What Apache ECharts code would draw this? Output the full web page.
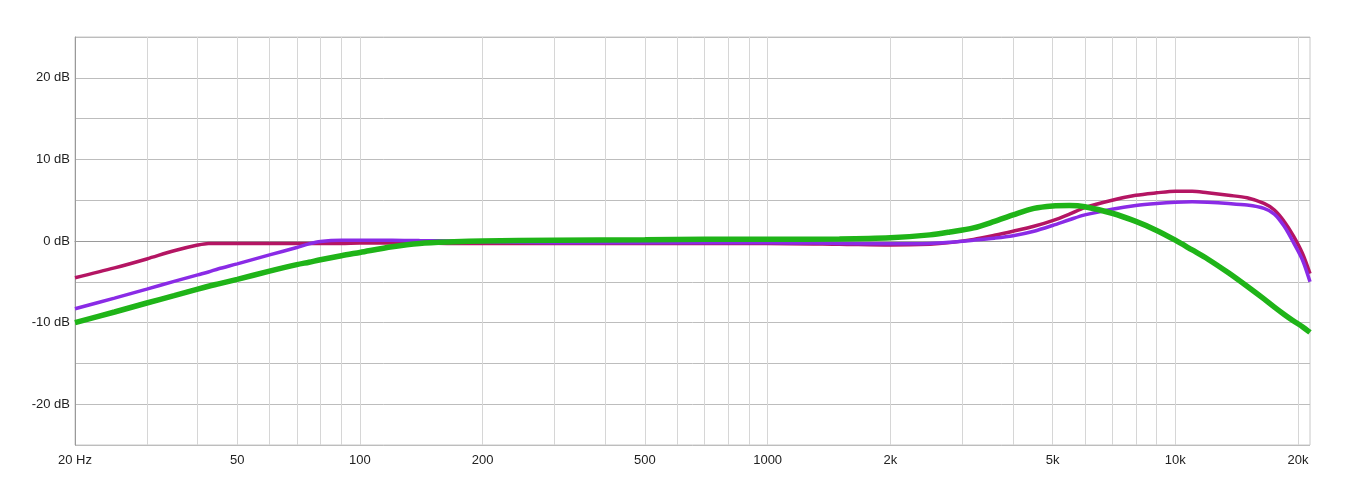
<!DOCTYPE html>
<html><head><meta charset="utf-8">
<script src="https://cdn.jsdelivr.net/npm/echarts@6/dist/echarts.min.js"></script>
<style>html,body{margin:0;padding:0;background:#fff}#c{width:1350px;height:500px}</style>
</head><body><div id="c"></div>
<script>
const freqs = [20, 25, 30, 35, 40, 42.5, 45, 50, 60, 70, 75, 80, 90, 100, 120, 140, 170, 200, 300, 500, 700, 1000, 1500, 2000, 2500, 2800, 3200, 3600, 4000, 4500, 5000, 5500, 6000, 7000, 8000, 9000, 10000, 11000, 12000, 13500, 15000, 16500, 17500, 18500, 19500, 20500, 21400];
const crimsonDb = [-4.5, -3.3, -2.2, -1.2, -0.5, -0.3, -0.3, -0.3, -0.3, -0.3, -0.3, -0.3, -0.3, -0.25, -0.25, -0.25, -0.3, -0.3, -0.3, -0.3, -0.3, -0.3, -0.4, -0.5, -0.4, -0.2, 0.2, 0.7, 1.2, 1.8, 2.5, 3.3, 4.1, 5.0, 5.6, 5.9, 6.1, 6.1, 5.9, 5.6, 5.3, 4.6, 3.8, 2.4, 0.6, -1.5, -4.0];
const purpleDb = [-8.3, -7.0, -5.9, -4.95, -4.15, -3.8, -3.4, -2.8, -1.7, -0.8, -0.35, -0.05, 0.1, 0.1, 0.1, 0.05, 0.0, -0.1, -0.2, -0.2, -0.2, -0.2, -0.3, -0.35, -0.3, -0.15, 0.1, 0.35, 0.65, 1.2, 1.9, 2.6, 3.2, 3.9, 4.35, 4.6, 4.75, 4.8, 4.75, 4.6, 4.4, 4.0, 3.3, 1.8, -0.2, -2.3, -5.0];
const greenDb = [-10.0, -8.7, -7.6, -6.7, -5.9, -5.55, -5.25, -4.7, -3.7, -2.9, -2.6, -2.3, -1.8, -1.4, -0.7, -0.3, -0.1, 0.0, 0.1, 0.15, 0.2, 0.2, 0.25, 0.4, 0.75, 1.1, 1.6, 2.4, 3.2, 4.0, 4.3, 4.35, 4.2, 3.4, 2.4, 1.3, 0.1, -1.1, -2.2, -3.9, -5.55, -7.1, -8.1, -9.0, -9.8, -10.5, -11.2];
const gridFreqs = [20, 30, 40, 50, 60, 70, 80, 90, 100, 200, 300, 400, 500, 600, 700, 800, 900, 1000, 2000, 3000, 4000, 5000, 6000, 7000, 8000, 9000, 10000, 20000];
const labelFreqs = [20, 50, 100, 200, 500, 1000, 2000, 5000, 10000, 20000];
const freqMin = 20, freqMax = 21400;

function pairs(vals){ return freqs.map((f,i)=>[f, vals[i]]); }
function fmtFreq(v){
  if (Math.abs(v-20) < 0.01) return '20 Hz';
  if (v >= 2000) return Math.round(v/1000) + 'k';
  return String(Math.round(v));
}
const chart = echarts.init(document.getElementById('c'), null, {renderer:'canvas'});
const font = 'Liberation Sans, Arial, sans-serif';
chart.setOption({
  animation: false,
  backgroundColor: '#fff',
  grid: {left: 75, right: 40, top: 37, bottom: 55, show: true, borderColor: '#c8c8c8', borderWidth: 1, containLabel: false},
  xAxis: {
    type: 'log', logBase: 10, min: freqMin, max: freqMax,
    axisLine: {show: true, lineStyle: {color: '#9a9a9a', width: 1}},
    axisTick: {show: false, customValues: gridFreqs},
    axisLabel: {customValues: labelFreqs, formatter: fmtFreq, color: '#222', fontSize: 13, fontFamily: font, margin: 9},
    splitLine: {show: true, lineStyle: {color: '#d6d6d6', width: 1}},
    minorTick: {show: false}
  },
  yAxis: {
    type: 'value', min: -25, max: 25, interval: 5,
    axisLine: {show: true, lineStyle: {color: '#9a9a9a', width: 1}},
    axisTick: {show: false},
    axisLabel: {formatter: v => (v % 10 === 0 ? v + ' dB' : ''), color: '#222', fontSize: 13, fontFamily: font, margin: 5},
    splitLine: {show: true, lineStyle: {color: '#bdbdbd', width: 1}}
  },
  series: [
    {type: 'line', data: pairs(crimsonDb), showSymbol: false, smooth: 0.3, lineStyle: {color: '#b41563', width: 3.5}, itemStyle: {color: '#b41563'}},
    {type: 'line', data: pairs(purpleDb), showSymbol: false, smooth: 0.3, lineStyle: {color: '#8a2be6', width: 3.5}, itemStyle: {color: '#8a2be6'}},
    {type: 'line', data: pairs(greenDb), showSymbol: false, smooth: 0.3, lineStyle: {color: '#1fb418', width: 5.5}, itemStyle: {color: '#1fb418'}}
  ]
});
</script></body></html>
